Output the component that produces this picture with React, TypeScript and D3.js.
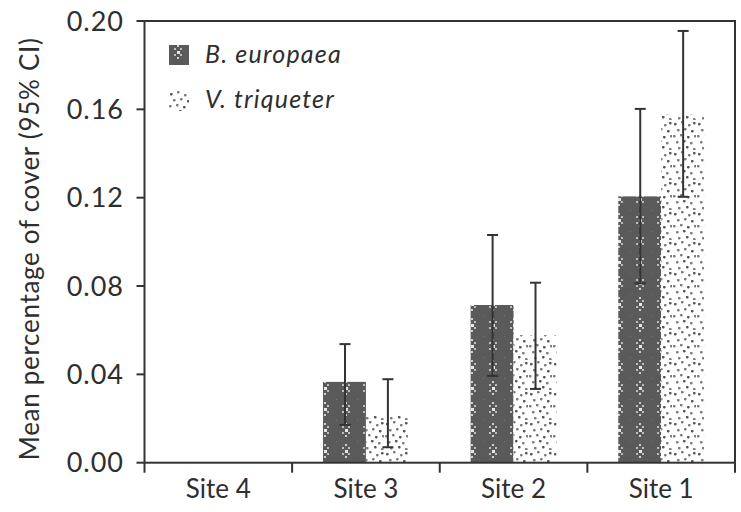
import React from "react";
import * as d3 from "d3";

const categories = ["Site 4", "Site 3", "Site 2", "Site 1"];
const seriesNames = ["B. europaea", "V. triqueter"];
const europaeaMean = [0, 0.0366, 0.0714, 0.1206];
const europaeaLower = [null, 0.0171, 0.0393, 0.0812];
const europaeaUpper = [null, 0.0537, 0.1031, 0.1602];
const triqueterMean = [0, 0.0216, 0.0578, 0.1579];
const triqueterLower = [null, 0.007, 0.0334, 0.1204];
const triqueterUpper = [null, 0.0378, 0.0815, 0.1955];
const yTicks = [0, 0.04, 0.08, 0.12, 0.16, 0.2];

const W = 741;
const H = 512;
const left = 144.5;
const right = 735;
const top = 21;
const bottom = 462.7;
const ink = "#333333";
const textColor = "#2e2e2e";
const FONT = "Lato, 'Open Sans', sans-serif";

const lightDots: [number, number][] = [
  [2, 3], [9, 1], [16, 4], [21, 2], [5, 9], [12, 8], [19, 10], [1, 15],
  [8, 14], [15, 16], [22, 15], [4, 21], [11, 20], [18, 22], [6, 27] , [14, 26], [21, 28],
];

export default function App() {
  const x = d3.scaleBand<string>().domain(categories).range([left, right]).paddingInner(0).paddingOuter(0);
  const xs = d3.scaleBand<string>().domain(seriesNames).range([0, x.bandwidth()]).paddingInner(0).paddingOuter(0.72);
  const y = d3.scaleLinear().domain([0, 0.2]).range([bottom, top]);

  const series = [
    { name: seriesNames[0], mean: europaeaMean, lo: europaeaLower, hi: europaeaUpper, fill: "url(#darkPat)" },
    { name: seriesNames[1], mean: triqueterMean, lo: triqueterLower, hi: triqueterUpper, fill: "url(#lightPat)" },
  ];

  const boundaries = [...categories.map((c) => x(c) as number), right];

  return (
    <div style={{ position: "absolute", left: 0, top: 0 }}>
      <svg width={W} height={H} viewBox={`0 0 ${W} ${H}`} style={{ display: "block", background: "#fff" }}>
        <defs>
          <pattern id="darkPat" patternUnits="userSpaceOnUse" width="21" height="21">
            <rect width="21" height="21" fill="#5a5a5a" />
            <rect x="9" y="3" width="2" height="2" fill="#cfcfcf" />
            <rect x="6" y="6" width="2" height="2" fill="#bdbdbd" />
            <rect x="12" y="6" width="2" height="2" fill="#bdbdbd" />
            <rect x="9" y="9" width="3" height="3" fill="#e6e6e6" />
            <rect x="6" y="12" width="2" height="2" fill="#bdbdbd" />
            <rect x="12" y="12" width="2" height="2" fill="#bdbdbd" />
            <rect x="9" y="15" width="2" height="2" fill="#cfcfcf" />
            <rect x="0" y="0" width="1" height="1" fill="#7a7a7a" />
          </pattern>
          <pattern id="lightPat" patternUnits="userSpaceOnUse" width="24" height="30">
            <rect width="24" height="30" fill="#ffffff" />
            {lightDots.map(([cx, cy], i) => (
              <rect key={i} x={cx} y={cy} width={2.6} height={2.4} rx={0.8} fill={i % 3 === 0 ? "#555" : "#7a7a7a"} />
            ))}
          </pattern>
        </defs>

        {/* bars */}
        {series.map((s) =>
          categories.map((c, i) => {
            const v = s.mean[i];
            if (!v) return null;
            const bx = (x(c) as number) + (xs(s.name) as number);
            return (
              <rect key={s.name + c} x={bx} y={y(v)} width={xs.bandwidth()} height={bottom - y(v)} fill={s.fill} />
            );
          })
        )}

        {/* error bars */}
        {series.map((s) =>
          categories.map((c, i) => {
            const lo = s.lo[i];
            const hi = s.hi[i];
            if (lo == null || hi == null) return null;
            const cx = (x(c) as number) + (xs(s.name) as number) + xs.bandwidth() / 2 + 0.5;
            return (
              <g key={"e" + s.name + c} stroke={ink} strokeWidth={2}>
                <line x1={cx} x2={cx} y1={y(lo)} y2={y(hi)} />
                <line x1={cx - 5.5} x2={cx + 5.5} y1={y(hi)} y2={y(hi)} />
                <line x1={cx - 5.5} x2={cx + 5.5} y1={y(lo)} y2={y(lo)} />
              </g>
            );
          })
        )}

        {/* frame */}
        <rect x={left} y={top} width={right - left} height={bottom - top} fill="none" stroke={ink} strokeWidth={2} />

        {/* y ticks */}
        {yTicks.map((t) => (
          <g key={t}>
            <line x1={left - 8} x2={left} y1={y(t)} y2={y(t)} stroke={ink} strokeWidth={2} />
            <text x={124} y={y(t)} dy="0.36em" textAnchor="end" fontFamily={FONT} fontSize={27} letterSpacing={1} fill={textColor}>
              {d3.format(".2f")(t)}
            </text>
          </g>
        ))}

        {/* x ticks */}
        {boundaries.map((b, i) => (
          <line key={i} x1={b} x2={b} y1={bottom} y2={bottom + 10} stroke={ink} strokeWidth={2} />
        ))}
        {categories.map((c) => (
          <text key={c} x={(x(c) as number) + x.bandwidth() / 2} y={498} textAnchor="middle" fontFamily={FONT} fontSize={26} fill={textColor}>
            {c}
          </text>
        ))}

        {/* y title */}
        <text
          transform={`translate(39, ${(top + bottom) / 2 + 7}) rotate(-90)`}
          textAnchor="middle"
          fontFamily={FONT}
          fontSize={26}
          letterSpacing={0.7}
          fill={textColor}
        >
          Mean percentage of cover (95% CI)
        </text>

        {/* legend */}
        <rect x={169} y={45} width={20} height={20} fill="url(#darkPat)" />
        <text x={205} y={63} fontFamily={FONT} fontStyle="italic" fontSize={25} letterSpacing={1.2} fill={textColor}>
          {seriesNames[0]}
        </text>
        <rect x={169} y={91} width={20} height={20} fill="url(#lightPat)" />
        <text x={205} y={108} fontFamily={FONT} fontStyle="italic" fontSize={25} letterSpacing={1.2} fill={textColor}>
          {seriesNames[1]}
        </text>
      </svg>
    </div>
  );
}
